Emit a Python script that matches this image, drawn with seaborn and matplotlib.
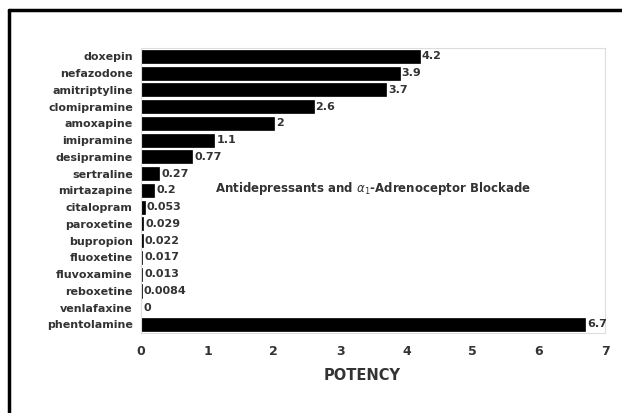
import matplotlib
matplotlib.use("Agg")
import matplotlib.pyplot as plt
from matplotlib.lines import Line2D
import pandas as pd
import seaborn as sns

drugs = ['doxepin', 'nefazodone', 'amitriptyline', 'clomipramine', 'amoxapine',
         'imipramine', 'desipramine', 'sertraline', 'mirtazapine', 'citalopram',
         'paroxetine', 'bupropion', 'fluoxetine', 'fluvoxamine', 'reboxetine',
         'venlafaxine', 'phentolamine']
potency = [4.2, 3.9, 3.7, 2.6, 2, 1.1, 0.77, 0.27, 0.2, 0.053,
           0.029, 0.022, 0.017, 0.013, 0.0084, 0, 6.7]
value_labels = ['4.2', '3.9', '3.7', '2.6', '2', '1.1', '0.77', '0.27', '0.2', '0.053',
                '0.029', '0.022', '0.017', '0.013', '0.0084', '0', '6.7']
x_ticks = [0, 1, 2, 3, 4, 5, 6, 7]

df = pd.DataFrame({'drug': drugs, 'potency': potency})

sns.set_style("white")
plt.rcParams['font.family'] = ['DejaVu Sans']

fig = plt.figure(figsize=(6.22, 4.13), dpi=100)
ax = fig.add_axes([0.227, 0.194, 0.746, 0.690])

sns.barplot(data=df, x='potency', y='drug', orient='h', color='black',
            edgecolor='black', linewidth=0.5, width=0.78, ax=ax)

ax.bar_label(ax.containers[0], labels=value_labels, padding=1.5,
             fontsize=8, fontweight='bold', color='#333333')

ax.set_xlim(0, 7)
ax.set_xticks(x_ticks)
ax.set_xticklabels([str(t) for t in x_ticks], fontsize=9, fontweight='bold', color='#333333')
ax.tick_params(axis='y', labelsize=8, length=0, pad=6, labelcolor='#333333')
for lbl in ax.get_yticklabels():
    lbl.set_fontweight('bold')
ax.tick_params(axis='x', length=0, pad=9)
ax.set_ylabel('')
ax.set_xlabel('POTENCY', fontsize=10.5, fontweight='bold', color='#333333')
ax.xaxis.set_label_coords(0.477, -0.123)
for s in ax.spines.values():
    s.set_color('#dddddd')
    s.set_linewidth(0.8)

ax.text(3.5, 8 - 0.1, r'Antidepressants and $\alpha_1$-Adrenoceptor Blockade',
        ha='center', va='center', fontsize=8.5, fontweight='bold', color='#333333')

# frame lines along top and left of the figure
fig.add_artist(Line2D([9 / 622, 1.0], [1 - 10 / 413, 1 - 10 / 413],
                      transform=fig.transFigure, color='black', linewidth=2.5))
fig.add_artist(Line2D([9 / 622, 9 / 622], [0.0, 1 - 10 / 413],
                      transform=fig.transFigure, color='black', linewidth=2.5))

fig.savefig('out.png', dpi=100)
